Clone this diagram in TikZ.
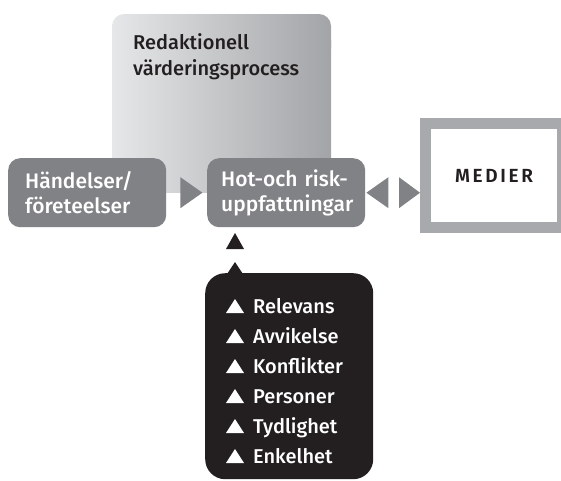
\documentclass[tikz,border=0pt]{standalone}
\usepackage{fontspec}
\setmainfont{Fira Sans Medium}[BoldFont=Fira Sans SemiBold]
\usepackage{tikz}
\usetikzlibrary{calc}
\usepackage{xcolor}
\definecolor{BoxGray}{HTML}{808285}
\definecolor{FrameGray}{HTML}{a7a9ac}
\definecolor{ShadeLight}{HTML}{e6e7e8}
\definecolor{ShadeDark}{HTML}{a2a4a7}
\definecolor{InkBlack}{HTML}{231f20}

\begin{document}
\begin{tikzpicture}[x=1pt,y=-1pt,
    procshade/.style={left color=ShadeLight,right color=ShadeDark},
    graybox/.style={fill=BoxGray,rounded corners=12pt,text=white,align=left,
      minimum width=158pt,minimum height=69pt,inner xsep=14pt,text width=130pt,
      font=\fontsize{21}{25}\selectfont,anchor=north west},
    item/.style={text=white,anchor=base west,inner sep=0pt,font=\fontsize{20}{23}\selectfont}]
    \path[use as bounding box] (0,0) rectangle (561,480);
    \clip (0,0) rectangle (561,480);

    \shade[procshade,rounded corners=12pt] (112,14) rectangle (331,60);
    \shade[procshade] (112,40) rectangle (331,192);
    \node[anchor=north west,inner sep=0pt,align=left,text=InkBlack,
      font=\fontsize{20}{26}\selectfont] (proc) at (133,33) {Redaktionell\\värderingsprocess};

    \node[graybox,inner xsep=17pt,text width=124pt] (hand) at (8,158) {Händelser/\\företeelser};
    \node[graybox] (risk) at (207,158) {Hot-och risk-\\uppfattningar};
    \node[draw=FrameGray,line width=11pt,fill=white,minimum width=137pt,minimum height=104pt,
      anchor=west,text=InkBlack,font=\fontsize{19}{23}\selectfont\bfseries\addfontfeatures{LetterSpace=14}]
      (medier) at (420,175.5) {MEDIER};

    \fill[BoxGray] ($(hand.east)+(14,-15.5)$) -- ++(22,15.5) -- ++(-22,15.5) -- cycle;
    \fill[BoxGray] ($(risk.east)+(1,0)$) -- ++(22,-15.5) -- ++(0,31) -- cycle;
    \fill[BoxGray] (medier.west |- risk.east) -- ++(-21,-15.5) -- ++(0,31) -- cycle;

    \node[fill=InkBlack,rounded corners=20pt,minimum width=168pt,minimum height=206pt,
      anchor=north west] (crit) at (205,273) {};
    \fill[InkBlack] ($(crit.north west)+(22,1)$) -- ++(8,-12) -- ++(8,12) -- cycle;
    \fill[InkBlack] ($(crit.north west)+(21,-24)$) -- ++(9,-16) -- ++(9,16) -- cycle;

    \foreach \name [count=\i] in {Relevans,Avvikelse,Konflikter,Personer,Tydlighet,Enkelhet} {
     \node[item] (item\i) at (253,{313+30*(\i-1)}) {\name};
     \fill[white] ($(item\i.base west)+(-27,0)$) -- ++(9,-14) -- ++(9,14) -- cycle;
    }
\end{tikzpicture}
\end{document}
